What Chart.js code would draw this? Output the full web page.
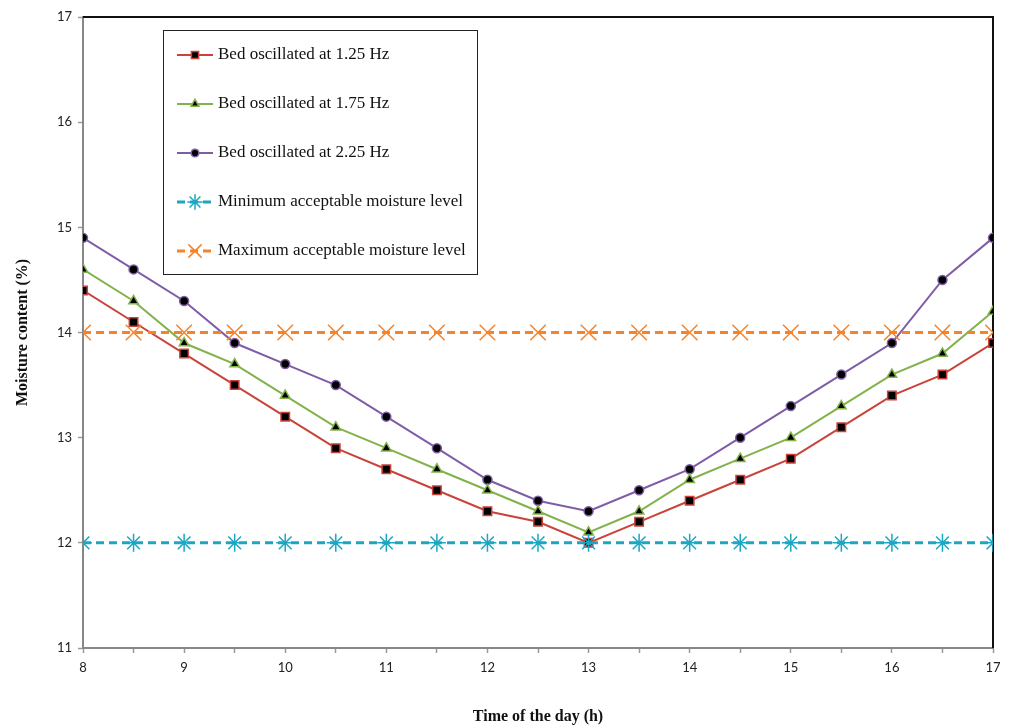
<!DOCTYPE html>
<html>
<head>
<meta charset="utf-8">
<script src="https://cdn.jsdelivr.net/npm/chart.js@4/dist/chart.umd.min.js"></script>
<style>
  html, body { margin: 0; padding: 0; background: #fff; }
  #wrap { width: 1011px; height: 727px; }
</style>
</head>
<body>
<div id="wrap"><canvas id="mychart"></canvas></div>
<script>
// -------- data --------------------
const hours = [8, 8.5, 9, 9.5, 10, 10.5, 11, 11.5, 12, 12.5, 13, 13.5, 14, 14.5, 15, 15.5, 16, 16.5, 17];
const bed125 = [14.4, 14.1, 13.8, 13.5, 13.2, 12.9, 12.7, 12.5, 12.3, 12.2, 12.0, 12.2, 12.4, 12.6, 12.8, 13.1, 13.4, 13.6, 13.9];
const bed175 = [14.6, 14.3, 13.9, 13.7, 13.4, 13.1, 12.9, 12.7, 12.5, 12.3, 12.1, 12.3, 12.6, 12.8, 13.0, 13.3, 13.6, 13.8, 14.2];
const bed225 = [14.9, 14.6, 14.3, 13.9, 13.7, 13.5, 13.2, 12.9, 12.6, 12.4, 12.3, 12.5, 12.7, 13.0, 13.3, 13.6, 13.9, 14.5, 14.9];
const minLevel = [12, 12, 12, 12, 12, 12, 12, 12, 12, 12, 12, 12, 12, 12, 12, 12, 12, 12, 12];
const maxLevel = [14, 14, 14, 14, 14, 14, 14, 14, 14, 14, 14, 14, 14, 14, 14, 14, 14, 14, 14];

const yTicks = [11, 12, 13, 14, 15, 16, 17];

const COLORS = {
  red: '#C9433B',
  green: '#82B24A',
  purple: '#7E5DA6',
  cyan: '#1CA6C2',
  orange: '#F5832B'
};

function pts(ys) {
  return hours.map((h, i) => ({ x: h, y: ys[i] }));
}

function series(label, ys, color, style, radius) {
  return {
    label: label,
    data: pts(ys),
    borderColor: color,
    borderWidth: 2,
    pointStyle: style,
    pointRadius: radius,
    pointBackgroundColor: '#000',
    pointBorderColor: color,
    pointBorderWidth: 1.5,
    tension: 0,
    order: 1
  };
}

function level(label, ys, color, style, radius) {
  return {
    label: label,
    data: pts(ys),
    borderColor: color,
    borderWidth: 3,
    borderDash: [8, 5],
    pointStyle: style,
    pointRadius: radius,
    pointBackgroundColor: color,
    pointBorderColor: color,
    pointBorderWidth: 1.5,
    order: 0
  };
}

const data = {
  datasets: [
    series('Bed oscillated at 1.25 Hz', bed125, COLORS.red, 'rect', 6),
    series('Bed oscillated at 1.75 Hz', bed175, COLORS.green, 'triangle', 5.5),
    series('Bed oscillated at 2.25 Hz', bed225, COLORS.purple, 'circle', 4.5),
    level('Minimum acceptable moisture level', minLevel, COLORS.cyan, 'star', 9),
    level('Maximum acceptable moisture level', maxLevel, COLORS.orange, 'crossRot', 11)
  ]
};

// boxed legend drawn inside the plot area
const boxLegend = {
  id: 'boxLegend',
  afterDraw(chart) {
    const ctx = chart.ctx;
    const left = 163, top = 30, w = 314, h = 244;
    ctx.save();
    ctx.fillStyle = '#fff';
    ctx.fillRect(left, top, w, h);
    ctx.strokeStyle = '#222';
    ctx.lineWidth = 1;
    ctx.strokeRect(left + 0.5, top + 0.5, w, h);
    const rows = [55, 104, 153, 202, 251];
    chart.data.datasets.forEach((ds, i) => {
      const y = rows[i];
      ctx.strokeStyle = ds.borderColor;
      ctx.lineWidth = ds.borderWidth;
      ctx.setLineDash(ds.borderDash || []);
      ctx.beginPath();
      ctx.moveTo(177, y);
      ctx.lineTo(213, y);
      ctx.stroke();
      ctx.setLineDash([]);
      ctx.fillStyle = ds.pointBackgroundColor;
      ctx.strokeStyle = ds.pointBorderColor;
      ctx.lineWidth = ds.pointBorderWidth;
      Chart.helpers.drawPoint(ctx, {
        pointStyle: ds.pointStyle,
        radius: ds.pointRadius * 0.85,
        rotation: 0,
        borderWidth: ds.pointBorderWidth
      }, 195, y);
      ctx.fillStyle = '#111';
      ctx.font = '17px "Liberation Serif", "Times New Roman", serif';
      ctx.textBaseline = 'middle';
      ctx.textAlign = 'left';
      ctx.fillText(ds.label, 218, y);
    });
    ctx.restore();
  }
};

// top and right edges of the plot frame
const frame = {
  id: 'frame',
  beforeDatasetsDraw(chart) {
    const a = chart.chartArea;
    const ctx = chart.ctx;
    ctx.save();
    ctx.strokeStyle = '#111';
    ctx.lineWidth = 2;
    ctx.beginPath();
    ctx.moveTo(a.left, a.top);
    ctx.lineTo(a.right, a.top);
    ctx.lineTo(a.right, a.bottom);
    ctx.stroke();
    ctx.restore();
  }
};

const tickFont = { family: 'Lato, "Open Sans", sans-serif', size: 13 };
const titleFont = { family: '"Liberation Serif", "Times New Roman", serif', size: 16, weight: 'bold' };

const config = {
  type: 'line',
  data: data,
  options: {
    responsive: true,
    maintainAspectRatio: false,
    animation: false,
    layout: { padding: { left: 0, top: 17, right: 18, bottom: 0 } },
    plugins: {
      legend: { display: false },
      tooltip: { enabled: false }
    },
    scales: {
      x: {
        type: 'linear',
        min: 8,
        max: 17,
        afterFit: (scale) => { scale.height = 79; },
        afterBuildTicks: (scale) => { scale.ticks = hours.map(v => ({ value: v })); },
        ticks: {
          color: '#222',
          font: tickFont,
          padding: 7,
          maxRotation: 0,
          autoSkip: false,
          callback: (v) => (Number.isInteger(v) ? String(v) : '')
        },
        grid: { drawOnChartArea: false, drawTicks: true, tickLength: 5, color: '#999', tickWidth: 1.5 },
        border: { color: '#888', width: 2 },
        title: { display: true, text: 'Time of the day (h)', color: '#111', font: titleFont, padding: { top: 0, bottom: 1 } }
      },
      y: {
        type: 'linear',
        min: 11,
        max: 17,
        afterFit: (scale) => { scale.width = 83; },
        afterBuildTicks: (scale) => { scale.ticks = yTicks.map(v => ({ value: v })); },
        ticks: { color: '#222', font: tickFont, padding: 6 },
        grid: { drawOnChartArea: false, drawTicks: true, tickLength: 5, color: '#999', tickWidth: 1.5 },
        border: { color: '#888', width: 2 },
        title: { display: true, text: 'Moisture content (%)', color: '#111', font: titleFont, padding: { top: 13, bottom: 0 } }
      }
    }
  },
  plugins: [frame, boxLegend]
};

const mychart = document.getElementById('mychart');
const chart = new Chart(mychart, config);
</script>
</body>
</html>
